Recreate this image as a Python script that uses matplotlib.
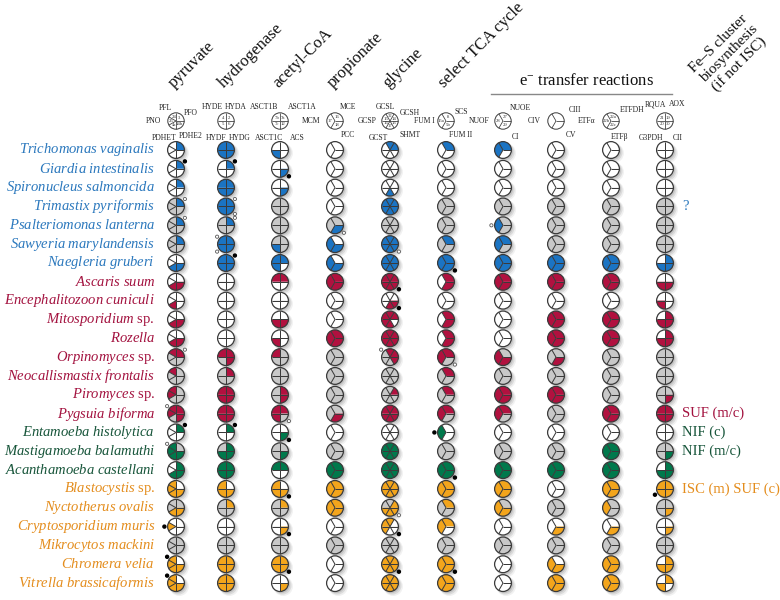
import matplotlib
matplotlib.use("Agg")
import matplotlib.pyplot as plt
from matplotlib.patches import Wedge, Circle
import numpy as np

plt.rcParams['font.family'] = ['Liberation Serif', 'DejaVu Serif']
plt.rcParams['mathtext.fontset'] = 'custom'
plt.rcParams['mathtext.it'] = 'Liberation Serif:italic'
plt.rcParams['mathtext.rm'] = 'Liberation Serif'

# ---------------- data ----------------
species = ["Trichomonas vaginalis", "Giardia intestinalis", "Spironucleus salmoncida",
           "Trimastix pyriformis", "Psalteriomonas lanterna", "Sawyeria marylandensis",
           "Naegleria gruberi", "Ascaris suum", "Encephalitozoon cuniculi",
           "Mitosporidium|sp.", "Rozella", "Orpinomyces|sp.", "Neocallismastix frontalis",
           "Piromyces|sp.", "Pygsuia biforma", "Entamoeba histolytica",
           "Mastigamoeba balamuthi", "Acanthamoeba castellani", "Blastocystis|sp.",
           "Nyctotherus ovalis", "Cryptosporidium muris", "Mikrocytos mackini",
           "Chromera velia", "Vitrella brassicaformis"]
groups = [0]*7 + [1]*8 + [2]*3 + [3]*6

columns = ["pyruvate", "hydrogenase", "acetyl-CoA", "propionate", "glycine",
           "select TCA cycle", "", "", "", ""]
col_types = ["P5", "Q4", "Q4", "Y3", "G6", "Y3", "Y3", "Y3", "Y3", "Q4"]

# segment states: w = absent, g = grey, c = group colour
pyruvate = ["cwwww", "cwwww", "cwwww", "cgggg", "cgggg", "cgggg", "wwwcc",
            "wwwcc", "wwwcw", "wwwcc", "wwwcc", "ccggg", "gcggg", "gccgg", "cccgc",
            "cwwww", "gcccc", "cwwcc",
            "wcccc", "gggcc", "wwcww", "ggggg", "wcccc", "wcccc"]
hydrogenase = ["cccc", "wcww", "cccc", "cccc", "gcgg", "cccc", "cccc",
               "wwww", "wwww", "wwww", "wwww", "ccgc", "gcgg", "cccc", "cccc",
               "wcww", "gccc", "cccc",
               "cwcc", "gcgg", "wwww", "gggg", "cccc", "cccc"]
acetylcoa = ["wwcw", "wwwc", "wwwc", "gggg", "gggg", "ggcg", "cccw",
             "ccww", "wwww", "wwcc", "wwcw", "cggg", "gggg", "gcgc", "cccg",
             "wwwc", "gggc", "ccww",
             "cwcc", "gcgg", "wwwc", "gggg", "cccc", "wwwc"]
propionate = ["www", "www", "www", "www", "ggc", "wcc", "wcc",
              "ccc", "www", "www", "ccc", "ggg", "ggg", "ggg", "ggc",
              "www", "ggg", "ccc",
              "ccc", "ccc", "www", "ggg", "www", "www"]
glycine = ["ccwwww", "wwwwww", "wwwwcw", "cccccc", "gggggg", "cccccc", "cccccc",
           "cccccc", "wwwwcc", "cccccw", "cccccc", "ccgggc", "gggggg", "cggggg", "cccccc",
           "wwwwww", "cccccc", "cccccc",
           "cccccc", "cggccc", "wcccww", "gggggg", "cccccc", "cccccc"]
tca = ["cww", "www", "www", "ggg", "ggg", "cgg", "ccc",
       "cwc", "www", "cwc", "cwc", "ccg", "cgg", "cgg", "ccg",
       "wcw", "ggg", "ccc",
       "ccc", "cgg", "ccw", "ggg", "ccc", "ccc"]
complex1 = ["ccw", "www", "www", "ggg", "gcg", "ccg", "ccc",
            "ccc", "www", "www", "www", "gcc", "ggg", "ccc", "ccg",
            "www", "ggg", "ccc",
            "ccc", "gcc", "www", "ggg", "www", "www"]
complex3 = ["www", "www", "www", "ggg", "ggg", "ggg", "ccc",
            "ccc", "www", "ccc", "ccc", "ggc", "ggg", "ccc", "ggg",
            "www", "ggg", "ccc",
            "www", "ggg", "wwc", "ggg", "wcc", "ccc"]
etf = ["www", "www", "www", "ggg", "ggg", "ggg", "ccc",
       "ccc", "www", "ccc", "ccc", "ggg", "ggg", "ggg", "ccc",
       "www", "ccc", "ccc",
       "ccc", "gcg", "wwc", "ggg", "ccc", "ccc"]
rqua = ["wwww", "wwww", "wwww", "gggg", "gggg", "gggg", "wccc",
        "wwcc", "wwcw", "wccc", "wccc", "gggg", "gggg", "gggc", "cccc",
        "wwww", "gggc", "wccc",
        "cccc", "gggc", "wwwc", "gggg", "wccc", "wccw"]
table = [pyruvate, hydrogenase, acetylcoa, propionate, glycine, tca,
         complex1, complex3, etf, rqua]

# small markers beside glyphs: (species row, column, kind, angle)
markers = [(1, 0, "b", 40), (1, 1, "b", 40), (1, 2, "b", -40), (3, 0, "o", 40),
           (3, 1, "o", 40), (3, 1, "o", -40), (4, 0, "o", 40), (4, 1, "o", 40),
           (4, 3, "o", -40), (4, 6, "o", 180), (5, 1, "o", 140), (5, 1, "o", -140),
           (5, 4, "o", -40), (6, 1, "b", 40), (6, 5, "b", -40), (7, 4, "b", -40),
           (8, 4, "b", -40), (11, 0, "o", 40), (11, 4, "o", 140), (11, 5, "o", -40),
           (14, 0, "o", 140), (14, 2, "o", -40), (15, 0, "b", 40), (15, 1, "b", 40),
           (15, 2, "b", -40), (15, 5, "b", 180), (16, 0, "o", 140), (17, 5, "b", -40),
           (18, 2, "b", -40), (18, 9, "b", -150), (19, 4, "o", -40), (20, 0, "b", 180),
           (20, 2, "b", -40), (20, 4, "b", -40), (22, 0, "b", 140), (22, 2, "b", -40),
           (22, 4, "b", -40), (22, 5, "b", -40), (23, 0, "b", 140)]

side_notes = [(3, "?", 0), (14, "SUF (m/c)", 1), (15, "NIF (c)", 2),
              (16, "NIF (m/c)", 2), (18, "ISC (m) SUF (c)", 3)]

# header key glyphs: labels per segment and numbers
key_labels = [
    [("PFL", -11, 13), ("PFO", 15, 8), ("PNO", -23, 0), ("PDHET", -12, -17), ("PDHE2", 15, -15)],
    [("HYDE", -14, 14), ("HYDA", 10, 14), ("HYDF", -10, -17), ("HYDG", 14, -17)],
    [("ASCT1B", -16, 14), ("ASCT1A", 22, 14), ("ASCT1C", -11, -17), ("ACS", 17, -17)],
    [("MCE", 13, 14), ("MCM", -24, 0), ("PCC", 13, -14)],
    [("GCSL", -5, 14), ("GCSH", 20, 8), ("GCSP", -23, 0), ("GCST", -12, -17), ("SHMT", 20, -14)],
    [("SCS", 15, 9), ("FUM I", -22, 0), ("FUM II", 15, -14)],
    [("NUOF", -24, 0), ("NUOE", 17, 13), ("CI", 13, -16)],
    [("CIV", -22, 0), ("CIII", 19, 11), ("CV", 15, -14)],
    [("ETF\u03b1", -24, 0), ("ETFDH", 21, 11), ("ETF\u03b2", 9, -16)],
    [("RQUA", -10, 17), ("AOX", 12, 17), ("G3PDH", -14, -17), ("CII", 13, -17)],
]
key_numbers = [["3", "24", "25", "4a", "14b"], ["4", "2", "5", "6"], ["7b", "7a", "7c", "12"],
               ["16", "17", "18"], ["14", "32", "15", "16", "17", "13"], ["8", "15a", "5b"],
               ["27", "28", "29"], ["", "", ""], ["22a", "22b", "22c"], ["21", "19", "20", "30"]]

# ---------------- layout / style ----------------
W, H = 780, 600
COL_X = [176, 226, 280, 335, 390, 446, 503, 556, 611, 665]
ROW0, DY = 150, 18.83
R = 8.4
KEY_Y, KEY_R = 121, 8.2
fill_cols = ["#1b74c3", "#b1113f", "#00794c", "#f3a51c"]
text_cols = ["#2b78bd", "#a3123f", "#17553a", "#e48d1d"]
GREY = "#c8c8c8"
EDGE = "#3a3a3a"

seg_bounds = {
    "Q4": [(90, 180), (0, 90), (180, 270), (270, 360)],
    "Y3": [(0, 120), (120, 240), (240, 360)],
    "P5": [(0, 90), (90, 150), (150, 210), (210, 270), (270, 360)],
    "G6": [(0, 60), (60, 120), (120, 180), (180, 240), (240, 300), (300, 360)],
}
spokes = {"Q4": [0, 90, 180, 270], "Y3": [0, 120, 240],
          "P5": [0, 90, 150, 210, 270], "G6": [0, 60, 120, 180, 240, 300]}

fig = plt.figure(figsize=(7.8, 6), dpi=100)
ax = fig.add_axes([0, 0, 1, 1])
ax.set_xlim(0, W)
ax.set_ylim(0, H)
ax.axis("off")


def py(p):
    return H - p


def glyph(x, y, r, kind, states, colour, shadow=True, lw=0.9):
    if shadow:
        for d, a, dr in [(3.2, 0.10, 1.3), (2.4, 0.18, 0.7), (1.5, 0.24, 0.2)]:
            ax.add_patch(Circle((x + d, y - d), r + dr, color="#777777", alpha=a, lw=0, zorder=1))
    for (t1, t2), s in zip(seg_bounds[kind], states):
        fc = {"w": "white", "g": GREY, "c": colour}[s]
        ax.add_patch(Wedge((x, y), r, t1, t2, facecolor=fc, edgecolor="none", zorder=2))
    for a in spokes[kind]:
        ax.plot([x, x + r * np.cos(np.radians(a))], [y, y + r * np.sin(np.radians(a))],
                color=EDGE, lw=lw * 0.8, zorder=3, solid_capstyle="butt")
    ax.add_patch(Circle((x, y), r, facecolor="none", edgecolor=EDGE, lw=lw, zorder=4))


# species labels
for i, (name, g) in enumerate(zip(species, groups)):
    y = py(ROW0 + i * DY)
    if "|" in name:
        it, rm = name.split("|")
        s = r"$\mathit{" + it + r"}$ " + rm
    else:
        s = r"$\mathit{" + name.replace(" ", r"\ ") + r"}$"
    ax.text(155, y, s, ha="right", va="center", fontsize=10.5, color=text_cols[g])

# glyph grid
for j, (col, kind) in enumerate(zip(table, col_types)):
    for i, states in enumerate(col):
        glyph(COL_X[j], py(ROW0 + i * DY), R, kind, states, fill_cols[groups[i]])

# small markers
for (i, j, kind, ang) in markers:
    cx = COL_X[j] + (R + 3.2) * np.cos(np.radians(ang))
    cy = py(ROW0 + i * DY) + (R + 3.2) * np.sin(np.radians(ang))
    if kind == "b":
        ax.add_patch(Circle((cx, cy), 1.5, color="black", zorder=5))
    else:
        ax.add_patch(Circle((cx, cy), 1.6, facecolor="white", edgecolor="#555555", lw=0.6, zorder=5))

# side notes
for (i, s, g) in side_notes:
    ax.text(682, py(ROW0 + i * DY), s, ha="left", va="center", fontsize=10.5, color=text_cols[g])

# column headers
for j, name in enumerate(columns):
    if name:
        ax.text(COL_X[j] + 1, py(91), name, rotation=45, rotation_mode="anchor",
                ha="left", va="bottom", fontsize=12, color="#111111")
ax.text(729, py(54), "Fe\u2013S cluster\nbiosynthesis\n(if not ISC)", rotation=45,
        rotation_mode="anchor", ha="center", va="center", multialignment="center",
        fontsize=11, color="#111111", linespacing=1.15)
ax.text(586, py(81), "e$^{-}$ transfer reactions", ha="center", va="center",
        fontsize=12, color="#111111")
ax.plot([491, 672], [py(94), py(94)], color="#888888", lw=1.0)

# key glyphs
for j, kind in enumerate(col_types):
    n = len(seg_bounds[kind])
    glyph(COL_X[j], py(KEY_Y), KEY_R, kind, "w" * n, "white", shadow=False, lw=0.7)
    for (lab, dx, dy) in key_labels[j]:
        ax.text(COL_X[j] + dx, py(KEY_Y) + dy, lab, ha="center", va="center",
                fontsize=5.5, color="#222222")
    for (t1, t2), num in zip(seg_bounds[kind], key_numbers[j]):
        if num:
            m = np.radians((t1 + t2) / 2)
            ax.text(COL_X[j] + 0.55 * KEY_R * np.cos(m), py(KEY_Y) + 0.55 * KEY_R * np.sin(m),
                    num, ha="center", va="center", fontsize=3.4, color="#333333")

fig.savefig("out.png", dpi=100)
